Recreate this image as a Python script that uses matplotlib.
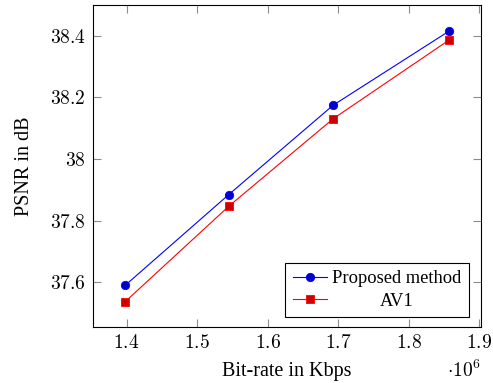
import matplotlib
matplotlib.use("Agg")
import matplotlib.pyplot as plt
from matplotlib.transforms import Affine2D

plt.rcParams['font.family'] = ['Liberation Serif', 'DejaVu Serif']
plt.rcParams['mathtext.fontset'] = 'cm'

# bit-rate in units of 10^6
bitrate = [1.398, 1.545, 1.693, 1.857]
psnr_proposed = [37.59, 37.885, 38.175, 38.415]
psnr_av1 = [37.537, 37.847, 38.131, 38.386]

series_names = ["Proposed method", "AV1"]
xticks = [1.4, 1.5, 1.6, 1.7, 1.8, 1.9]
yticks = [37.6, 37.8, 38.0, 38.2, 38.4]
yticklabels = ["37.6", "37.8", "38", "38.2", "38.4"]

FS = 14

fig = plt.figure(figsize=(4.93, 3.83), dpi=100)
ax = fig.add_axes([0.188, 0.1462, 0.9757 - 0.188, 0.9877 - 0.1462])

ax.plot(bitrate, psnr_proposed, color='blue', lw=0.8, marker='o',
        markersize=6, markerfacecolor=(0, 0, 0.8), markeredgecolor='blue',
        markeredgewidth=0.6, label=series_names[0])
ax.plot(bitrate, psnr_av1, color='red', lw=0.8, marker='s',
        markersize=5.8, markerfacecolor=(0.8, 0, 0), markeredgecolor='red',
        markeredgewidth=0.6, label=series_names[1])

ax.set_xlim(1.352, 1.9025)
ax.set_ylim(37.455, 38.501)
ax.set_xticks(xticks)
ax.set_xticklabels([f"${v:.1f}$" for v in xticks])
ax.set_yticks(yticks)
ax.set_yticklabels([f"${s}$" for s in yticklabels])

ax.tick_params(direction='in', length=5.5, width=0.8, color='0.55',
               top=True, right=True, labelsize=FS, pad=5)
for s in ax.spines.values():
    s.set_linewidth(0.8)
    s.set_color('black')

ax.set_xlabel("Bit-rate in Kbps", fontsize=14.5, labelpad=7)
ax.set_ylabel("PSNR in dB", fontsize=14.5, labelpad=11)

fig.text(447 / 493, 1 - 377 / 383, r"$\cdot 10^6$", fontsize=FS,
         ha='left', va='baseline')

leg = ax.legend(loc='lower right', bbox_to_anchor=(1 - 12 / 388.3, 10 / 322.3),
                fancybox=False, edgecolor='black', framealpha=1,
                borderaxespad=0, handlelength=1.85, handletextpad=0.3,
                borderpad=0.4, labelspacing=0.3, fontsize=13.3)
leg.get_frame().set_linewidth(0.8)

fig.canvas.draw()
r = fig.canvas.get_renderer()
texts = leg.get_texts()
w0 = texts[0].get_window_extent(r).width
w1 = texts[1].get_window_extent(r).width
dx = (w0 - w1) / 2
texts[1].set_transform(texts[1].get_transform() + Affine2D().translate(dx, 0))

fig.savefig("out.png", dpi=100)
